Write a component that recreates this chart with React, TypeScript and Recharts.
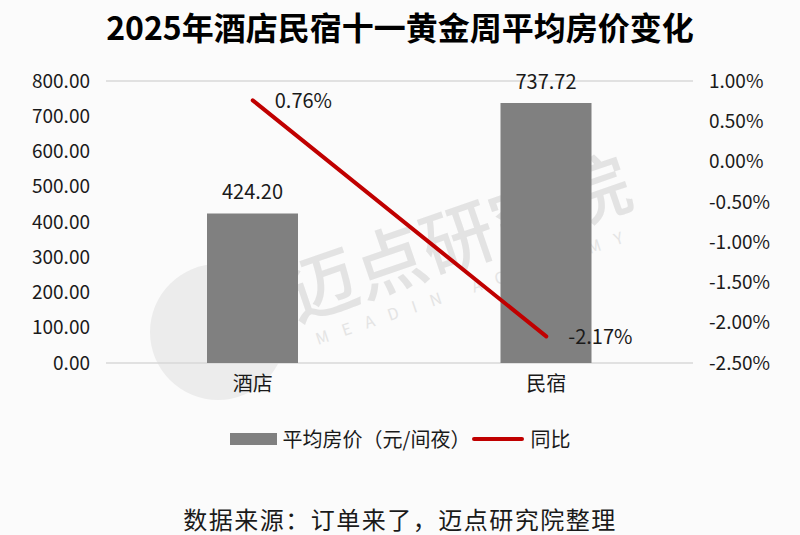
import React from "react";
import {
  Bar,
  ComposedChart,
  Line,
  XAxis,
  YAxis,
  CartesianGrid,
  Legend,
  LabelList,
} from "recharts";

const categories = ["酒店", "民宿"];
const avgPrice = [424.2, 737.72];
const yoy = [0.76, -2.17];
const leftTicks = [0, 100, 200, 300, 400, 500, 600, 700, 800];
const rightTicks = [-2.5, -2.0, -1.5, -1.0, -0.5, 0, 0.5, 1.0];

const data = categories.map((name, i) => ({
  name,
  price: avgPrice[i],
  yoy: yoy[i],
}));

const FONT = "'Noto Sans CJK SC', 'Noto Sans', sans-serif";

// Custom Legend Renderer
const CustomLegend = () => (
  <div
    style={{
      display: "flex",
      justifyContent: "center",
      alignItems: "center",
      fontFamily: FONT,
      fontSize: 20,
      color: "#1a1a1a",
      paddingTop: 24,
    }}
  >
    <span
      style={{
        display: "inline-block",
        width: 47,
        height: 12,
        background: "#808080",
        marginRight: 6,
      }}
    />
    <span>平均房价（元/间夜）</span>
    <span
      style={{
        display: "inline-block",
        width: 52,
        height: 4,
        borderRadius: 2,
        background: "#c00000",
        margin: "0 6px 0 2px",
      }}
    />
    <span>同比</span>
  </div>
);

const YoyLabel = (props: any) => {
  const { x, y, value } = props;
  return (
    <text x={x + 22} y={y + 8} fontSize={20} fontFamily={FONT} fill="#1a1a1a">
      {`${value.toFixed(2)}%`}
    </text>
  );
};

export default function App() {
  return (
    <div
      style={{
        position: "absolute",
        left: 0,
        top: 0,
        width: 800,
        height: 535,
        background: "#fbfbfb",
        fontFamily: FONT,
        overflow: "hidden",
      }}
    >
      {/* watermark */}
      <svg
        width={800}
        height={535}
        style={{ position: "absolute", left: 0, top: 0 }}
      >
        <circle cx={218} cy={332} r={68} fill="#ececec" />
        <text
          x={0}
          y={0}
          fontSize={72}
          fontWeight={500}
          fontFamily={FONT}
          fill="#e3e3e3"
          transform="translate(296 322) rotate(-19)"
        >
          迈点研究院
        </text>
        <text
          x={0}
          y={0}
          fontSize={16}
          letterSpacing={14.5}
          fontFamily={FONT}
          fill="#e4e4e4"
          transform="translate(318 345) rotate(-18.5)"
        >
          MEADIN ACADEMY
        </text>
      </svg>

      <div
        style={{
          position: "absolute",
          top: 8,
          width: 800,
          textAlign: "center",
          fontSize: 32,
          lineHeight: "36px",
          fontWeight: 700,
          color: "#000",
        }}
      >
        2025年酒店民宿十一黄金周平均房价变化
      </div>

      <div style={{ position: "absolute", left: 0, top: 0 }}>
        <ComposedChart
          width={800}
          height={460}
          data={data}
          margin={{ top: 81, right: 0, left: 0, bottom: 0 }}
        >
          <CartesianGrid vertical={false} stroke="#d9d9d9" strokeWidth={1.5} />
          <XAxis
            dataKey="name"
            axisLine={false}
            tickLine={false}
            height={37}
            tick={{ fontSize: 20, fill: "#1a1a1a", fontFamily: FONT }}
            tickMargin={8}
          />
          <YAxis
            yAxisId="left"
            width={106}
            domain={[0, 800]}
            ticks={leftTicks}
            axisLine={false}
            tickLine={false}
            tickFormatter={(v: number) => v.toFixed(2)}
            tick={{ fontSize: 19, fill: "#1a1a1a", fontFamily: FONT }}
            tickMargin={10}
          />
          <YAxis
            yAxisId="right"
            orientation="right"
            width={107}
            domain={[-2.5, 1]}
            ticks={rightTicks}
            axisLine={false}
            tickLine={false}
            tickFormatter={(v: number) => `${v.toFixed(2)}%`}
            tick={{ fontSize: 19, fill: "#1a1a1a", fontFamily: FONT }}
            tickMargin={10}
          />
          <Legend verticalAlign="bottom" height={60} content={<CustomLegend />} />
          <Bar
            yAxisId="left"
            dataKey="price"
            name="平均房价（元/间夜）"
            fill="#808080"
            barSize={91}
            isAnimationActive={false}
          >
            <LabelList
              dataKey="price"
              position="top"
              offset={14}
              formatter={(v: any) => Number(v).toFixed(2)}
              style={{ fontSize: 20, fill: "#1a1a1a", fontFamily: FONT }}
            />
          </Bar>
          <Line
            yAxisId="right"
            dataKey="yoy"
            name="同比"
            stroke="#c00000"
            strokeWidth={4}
            strokeLinecap="round"
            dot={false}
            isAnimationActive={false}
          >
            <LabelList dataKey="yoy" content={<YoyLabel />} />
          </Line>
        </ComposedChart>
      </div>

      <div
        style={{
          position: "absolute",
          top: 506,
          width: 800,
          textAlign: "center",
          fontSize: 24,
          lineHeight: "26px",
          letterSpacing: 1.5,
          color: "#1a1a1a",
        }}
      >
        数据来源：订单来了，迈点研究院整理
      </div>
    </div>
  );
}
